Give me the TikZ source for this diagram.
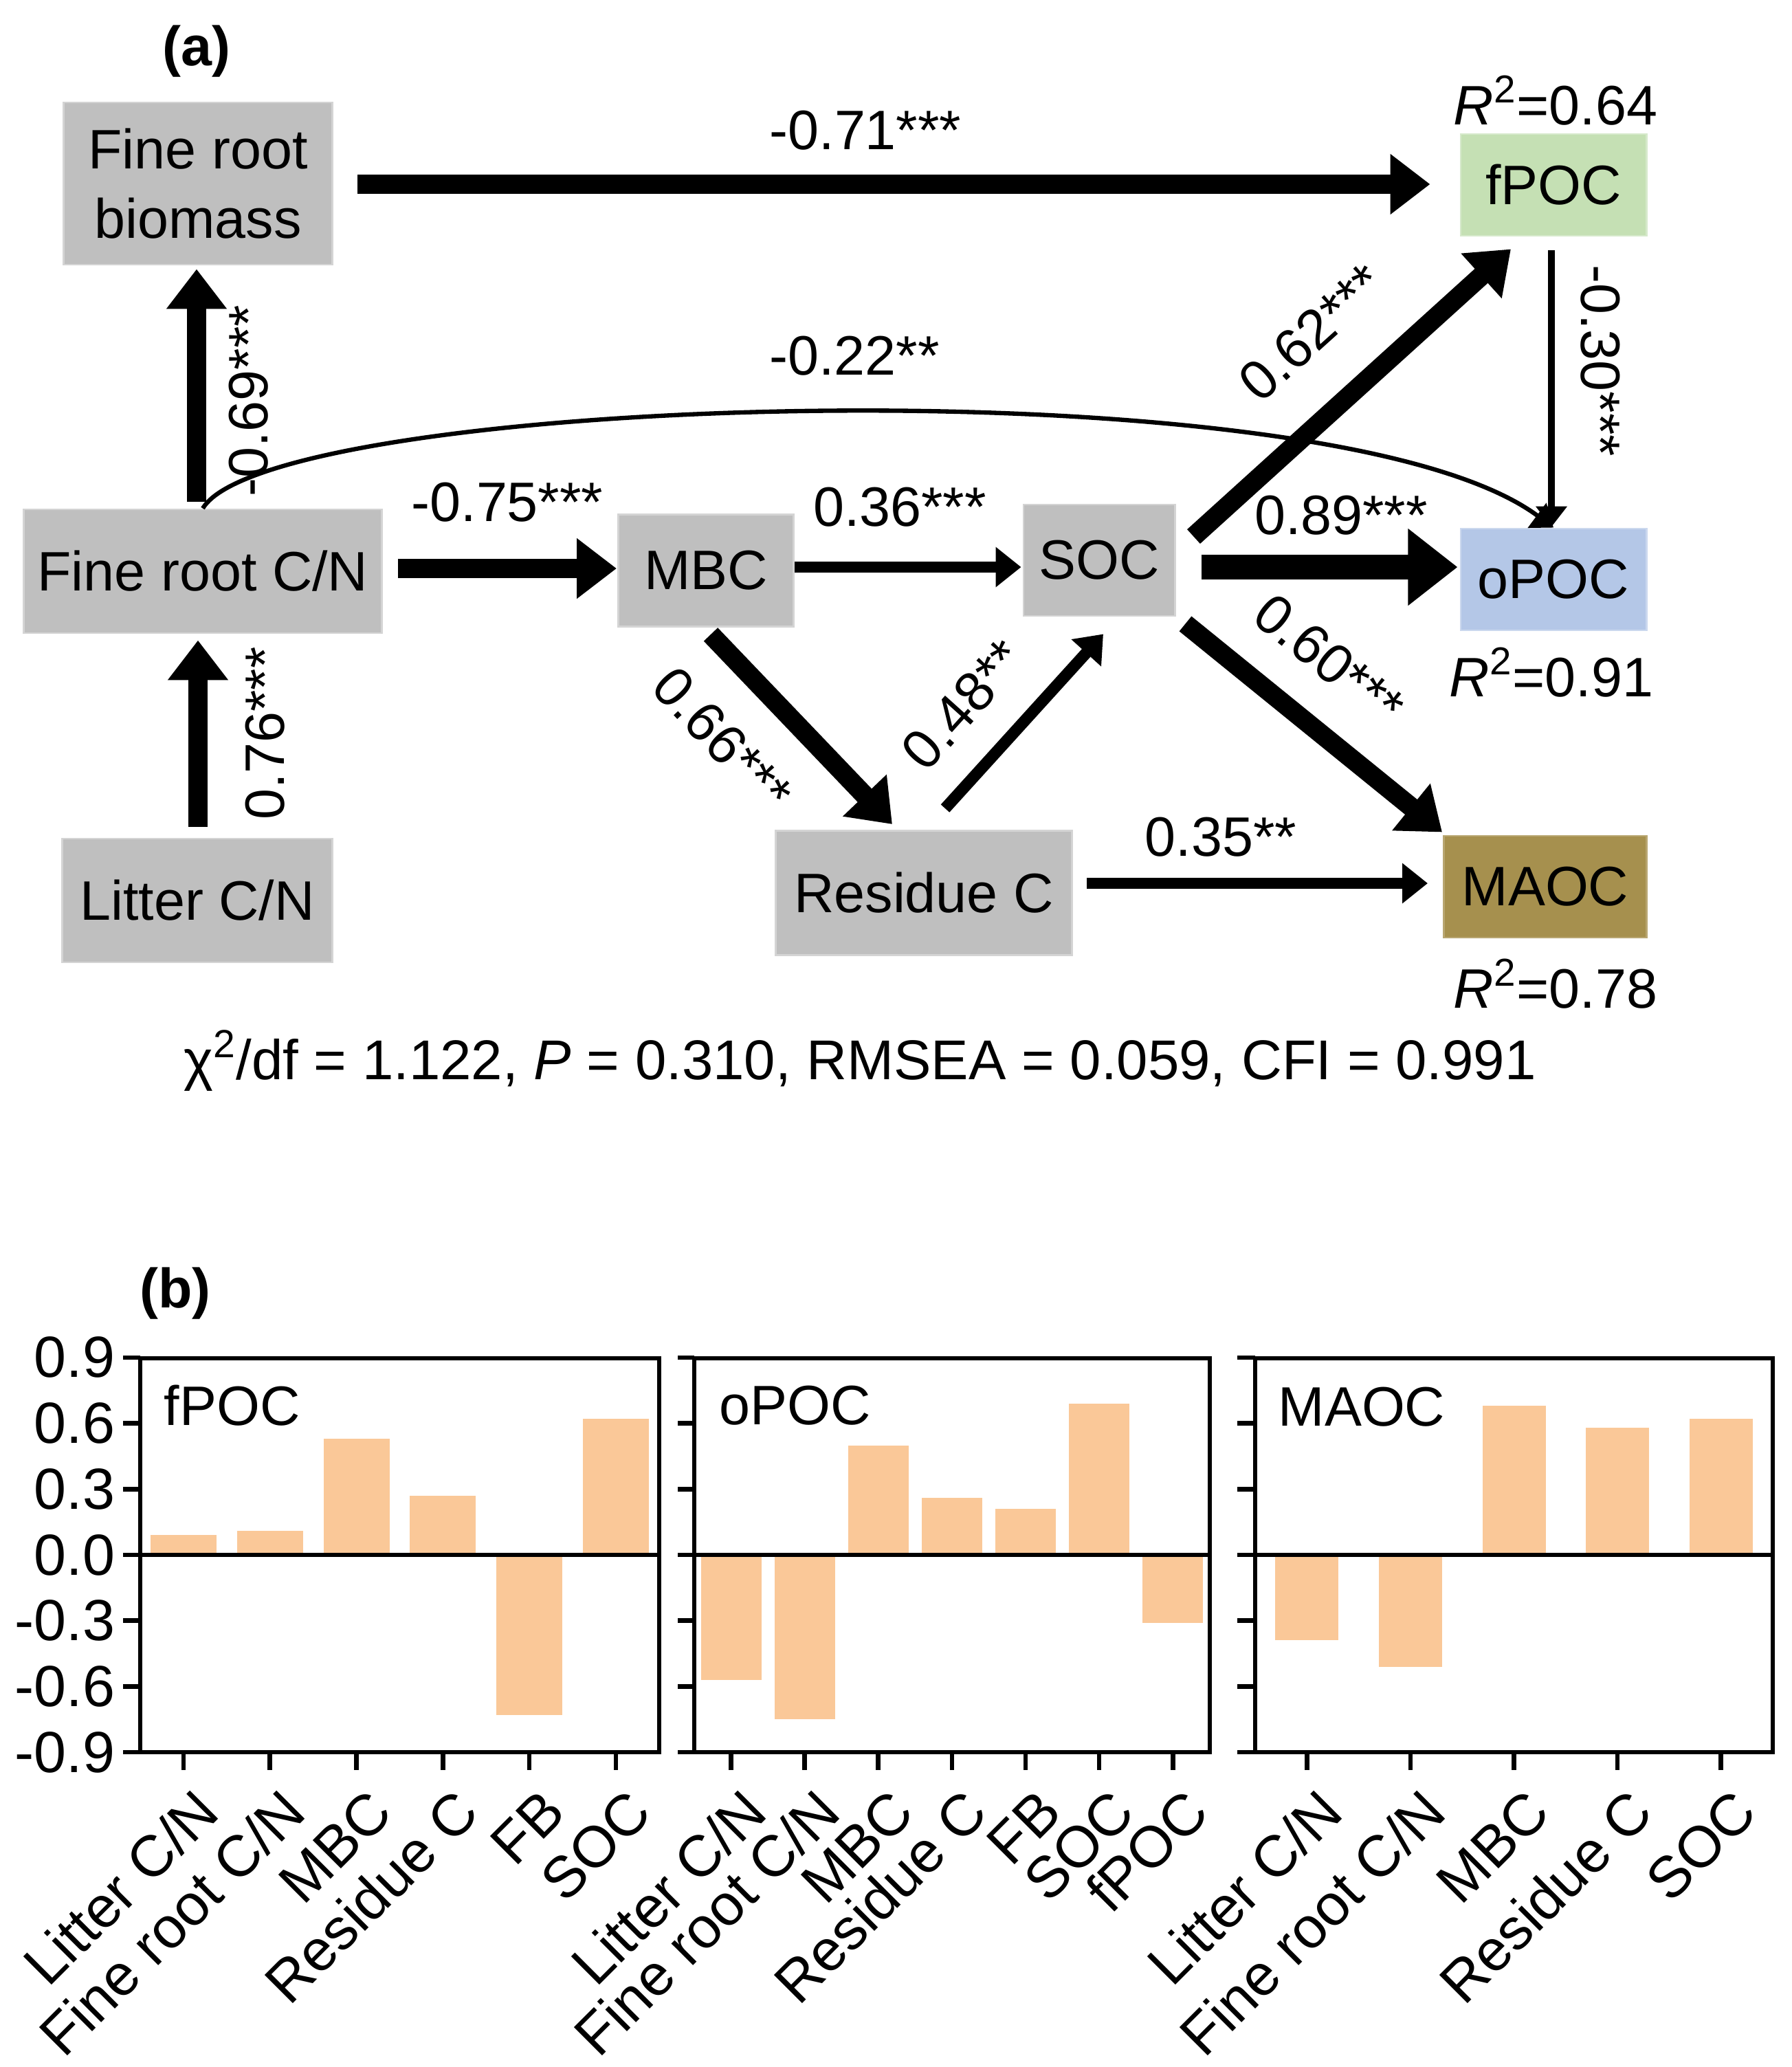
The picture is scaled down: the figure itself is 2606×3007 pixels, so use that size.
\documentclass[tikz,border=0pt]{standalone}
\usepackage{fontspec}
\setmainfont{Liberation Sans}
\usetikzlibrary{arrows.meta,calc}

\definecolor{boxgray}{RGB}{191,191,191}
\definecolor{boxline}{RGB}{212,212,212}
\definecolor{fpocgreen}{RGB}{197,224,180}
\definecolor{opocblue}{RGB}{180,199,231}
\definecolor{maocbrown}{RGB}{166,144,78}
\definecolor{barorange}{RGB}{250,200,152}

\tikzset{
  var/.style={draw=boxline, line width=0.8pt, fill=boxgray, inner sep=0pt, align=center, font=\fontsize{23}{28.5}\selectfont},
  coef/.style={inner sep=0pt, font=\fontsize{23}{28}\selectfont},
  arrhuge/.style={line width=10pt, -{Triangle[length=20.5pt,width=30.5pt]}},
  arrbig/.style={line width=8pt, -{Triangle[length=16.5pt,width=24pt]}},
  arrmid/.style={line width=4.8pt, -{Triangle[length=10.5pt,width=16pt]}},
  arrthin/.style={line width=2.8pt, -{Triangle[length=8.5pt,width=12.5pt]}},
  frameline/.style={line width=1.9pt},
  barfill/.style={fill=barorange},
  xlab/.style={rotate=45, anchor=north east, inner sep=0pt, text height=0.72em, text depth=0.2em, font=\fontsize{24}{29}\selectfont},
  ylab/.style={anchor=east, inner sep=0pt, font=\fontsize{24}{29}\selectfont},
  tag/.style={inner sep=0pt, font=\bfseries\fontsize{23}{28}\selectfont}
}

\begin{document}
\begin{tikzpicture}[x=0.01cm, y=-0.01cm]
  \useasboundingbox (0,0) rectangle (2606,3007);

  % (a) structural equation model
  \node[tag] (taga) at (286,75) {(a)};

  \node[var, minimum width=3.91cm, minimum height=2.36cm] (biomass) at (288,267) {Fine root\\biomass};
  \node[var, minimum width=5.21cm, minimum height=1.80cm] (frcn) at (295,831) {Fine root C/N};
  \node[var, minimum width=3.92cm, minimum height=1.80cm] (litter) at (287,1310) {Litter C/N};
  \node[var, minimum width=2.55cm, minimum height=1.63cm] (mbc) at (1027,830) {MBC};
  \node[var, minimum width=2.20cm, minimum height=1.62cm] (soc) at (1599,815) {SOC};
  \node[var, minimum width=4.31cm, minimum height=1.81cm] (resc) at (1344,1299) {Residue C};
  \node[var, fill=fpocgreen, draw=fpocgreen!70!white, minimum width=2.70cm, minimum height=1.48cm] (fpoc) at (2260,269) {fPOC};
  \node[var, fill=opocblue, draw=opocblue!70!white, minimum width=2.70cm, minimum height=1.48cm] (opoc) at (2260,843) {oPOC};
  \node[var, fill=maocbrown, draw=maocbrown!80!white, minimum width=2.95cm, minimum height=1.48cm] (maoc) at (2248,1290) {MAOC};

  \draw[arrbig] ($(biomass.east)+(35,1)$) -- ($(fpoc.west)+(-43,-1)$);
  \draw[arrbig] ($(frcn.north)+(-9,-10)$) -- ($(biomass.south)+(-2,5)$);
  \draw[arrbig] ($(litter.north)+(1,-16)$) -- ($(frcn.south)+(-7,9)$);
  \draw[arrbig] ($(frcn.east)+(22,-4)$) -- ($(mbc.west)+(-1,-3)$);
  \draw[arrmid] ($(mbc.east)+(0,-5)$) -- ($(soc.west)+(-2,10)$);
  \draw[arrhuge] ($(soc.east)+(37,10)$) -- ($(opoc.west)+(-3,-18)$);
  \draw[arrbig] ($(soc.north east)+(26,48)$) -- ($(fpoc.south)+(-62,18)$);
  \draw[arrthin] ($(fpoc.south)+(-3,20)$) -- ($(opoc.north)+(-3,-1)$);
  \draw[arrthin, line width=1.8pt] (frcn.north) .. controls +(100,-165) and +(-330,-245) .. (opoc.north);
  \draw[arrbig] ($(mbc.south)+(7,10)$) -- ($(resc.north)+(-46,-8)$);
  \draw[arrmid] ($(resc.north)+(31,-31)$) -- ($(soc.south)+(6,25)$);
  \draw[arrbig] ($(soc.south east)+(14,10)$) -- ($(maoc.north west)+(-1,-4)$);
  \draw[arrmid] ($(resc.east)+(20,-14)$) -- ($(maoc.west)+(-22,-5)$);

  \node[coef] (c71) at (1259,190) {-0.71***};
  \node[coef] (c22) at (1243,518) {-0.22**};
  \node[coef, rotate=90] (c69) at (362,583) {-0.69***};
  \node[coef, rotate=90] (c76) at (386,1067) {0.76***};
  \node[coef] (c75) at (738,731) {-0.75***};
  \node[coef] (c36) at (1309,738) {0.36***};
  \node[coef] (c89) at (1951,750) {0.89***};
  \node[coef, rotate=42] (c62) at (1908,484) {0.62***};
  \node[coef, rotate=-90] (c30) at (2328,525) {-0.30***};
  \node[coef, rotate=-47] (c66) at (1051,1076) {0.66***};
  \node[coef, rotate=48] (c48) at (1401,1025) {0.48**};
  \node[coef, rotate=-39] (c60) at (1934,960) {0.60***};
  \node[coef] (c35) at (1776,1218) {0.35**};

  \node[coef] (r2f) at (2263,146) {\textit{R}\textsuperscript{2}=0.64};
  \node[coef] (r2o) at (2257,978) {\textit{R}\textsuperscript{2}=0.91};
  \node[coef] (r2m) at (2263,1431) {\textit{R}\textsuperscript{2}=0.78};

  \node[inner sep=0pt, font=\fontsize{23.2}{28}\selectfont] (fit) at (1251,1543) {χ\textsuperscript{2}/df = 1.122, \textit{P} = 0.310, RMSEA = 0.059, CFI = 0.991};

  % (b) standardized total effects
  \node[tag] (tagb) at (255,1882) {(b)};

  \foreach \t/\tl [count=\k] in {0.9/0.9,0.6/0.6,0.3/0.3,0/0.0,-0.3/-0.3,-0.6/-0.6,-0.9/-0.9}
    \node[ylab] (ytick\k) at (168,{2262-319*\t}) {\tl};

  % fPOC panel
  \foreach \v/\lab [count=\i] in {0.09/{Litter C/N},0.11/{Fine root C/N},0.53/MBC,0.27/{Residue C},-0.73/FB,0.62/SOC}{
    \pgfmathsetmacro\bx{204+(\i-0.5)*125.8}
    \fill[barfill] ({\bx-48},2262) rectangle ({\bx+48},{2262-319*\v});
    \draw[frameline] (\bx,2549) -- (\bx,2575);
    \node[xlab] (fpocx\i) at ({\bx+38},2622) {\lab};
  }
  \foreach \t in {-0.9,-0.6,-0.3,0,0.3,0.6,0.9}
    \draw[frameline] (179,{2262-319*\t}) -- (204,{2262-319*\t});
  \draw[frameline] (204,2262) -- (959,2262);
  \draw[frameline] (204,1976) rectangle (959,2549);
  \node[coef, anchor=west] (tfpoc) at (238,2045) {fPOC};

  % oPOC panel
  \foreach \v/\lab [count=\i] in {-0.57/{Litter C/N},-0.75/{Fine root C/N},0.50/MBC,0.26/{Residue C},0.21/FB,0.69/SOC,-0.31/fPOC}{
    \pgfmathsetmacro\bx{1010+(\i-0.5)*107.1}
    \fill[barfill] ({\bx-44},2262) rectangle ({\bx+44},{2262-319*\v});
    \draw[frameline] (\bx,2549) -- (\bx,2575);
    \node[xlab] (opocx\i) at ({\bx+38},2622) {\lab};
  }
  \foreach \t in {-0.9,-0.6,-0.3,0,0.3,0.6,0.9}
    \draw[frameline] (986,{2262-319*\t}) -- (1010,{2262-319*\t});
  \draw[frameline] (1010,2262) -- (1760,2262);
  \draw[frameline] (1010,1976) rectangle (1760,2549);
  \node[coef, anchor=west] (topoc) at (1046,2045) {oPOC};

  % MAOC panel
  \foreach \v/\lab [count=\i] in {-0.39/{Litter C/N},-0.51/{Fine root C/N},0.68/MBC,0.58/{Residue C},0.62/SOC}{
    \pgfmathsetmacro\bx{1826+(\i-0.5)*150.6}
    \fill[barfill] ({\bx-46},2262) rectangle ({\bx+46},{2262-319*\v});
    \draw[frameline] (\bx,2549) -- (\bx,2575);
    \node[xlab] (maocx\i) at ({\bx+38},2622) {\lab};
  }
  \foreach \t in {-0.9,-0.6,-0.3,0,0.3,0.6,0.9}
    \draw[frameline] (1800,{2262-319*\t}) -- (1826,{2262-319*\t});
  \draw[frameline] (1826,2262) -- (2579,2262);
  \draw[frameline] (1826,1976) rectangle (2579,2549);
  \node[coef, anchor=west] (tmaoc) at (1859,2047) {MAOC};
\end{tikzpicture}
\end{document}
